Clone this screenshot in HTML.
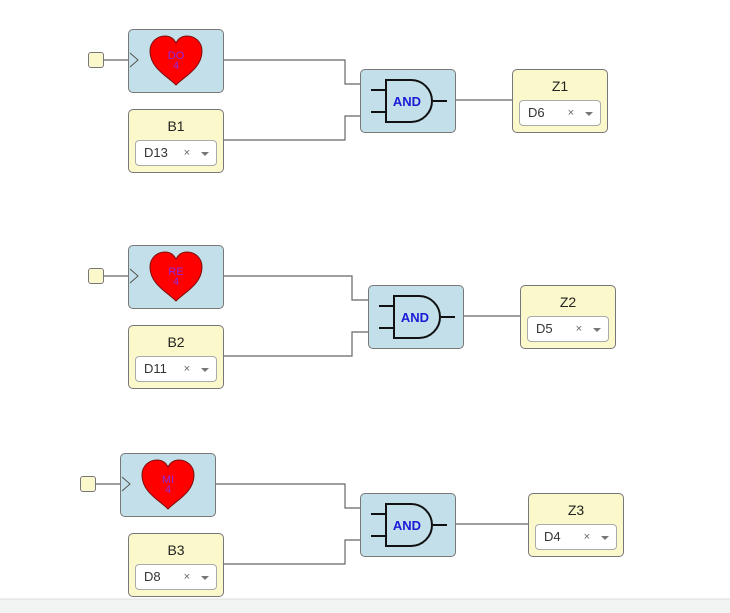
<!DOCTYPE html><html><head><style>
body{margin:0;width:730px;height:613px;background:#fff;position:relative;overflow:hidden;font-family:"Liberation Sans",sans-serif}
.b{position:absolute;box-sizing:border-box;border:1px solid #777;border-radius:5px;width:96px;height:64px}
.blue{background:#c3dfe9}.yel{background:#fbf8cb}
.t{position:absolute;left:0;right:0;top:8px;text-align:center;font-size:14px;color:#222}
.s{position:absolute;left:6px;width:82px;top:30px;height:26px;box-sizing:border-box;border:1px solid #aaa;border-radius:4px;background:#fff;font-size:13px;color:#333;line-height:24px;padding-left:8px}
.s i{position:absolute;right:26px;font-style:normal;font-size:11px;color:#666}
.s u{position:absolute;right:7px;top:11px;border-left:4px solid transparent;border-right:4px solid transparent;border-top:4px solid #777;width:0;height:0}
.sq{position:absolute;width:16px;height:16px;box-sizing:border-box;border:1px solid #777;border-radius:3px;background:#fbf8cb}
.ht{font-family:"Liberation Sans",sans-serif;font-size:11px;fill:#8a2be2;text-anchor:middle}
.at{font-family:"Liberation Sans",sans-serif;font-size:13px;font-weight:bold;fill:#1a1ad8;text-anchor:middle}
</style></head><body>
<svg width="730" height="613" style="position:absolute;left:0;top:0">
<g fill="none" stroke="#666" stroke-width="1.2">
<path d="M104 60H128M223 60H345V84H360M223 140H345V116H360M455 100H512"/>
<path d="M104 276H128M223 276H352V300H368M223 356H352V332H368M463 316H520"/>
<path d="M96 484H120M215 484H345V508H360M223 564H345V540H360M455 524H528"/>
</g>
<rect x="0" y="599" width="730" height="14" fill="#f2f3f3"/>
<line x1="0" y1="599" x2="730" y2="599" stroke="#ddd"/>
</svg>
<div class="sq" style="left:88px;top:52px"></div>
<div class="sq" style="left:88px;top:268px"></div>
<div class="sq" style="left:80px;top:476px"></div>
<div class="b blue" style="left:128px;top:29px"><svg width="94" height="62"><path d="M1 23L9 30L1 37" fill="none" stroke="#555"/><path d="M47 55C38 46 21 38 21 21C21 11 29 6 36 6C42 6 45 9 47 13C49 9 52 6 58 6C65 6 73 11 73 21C73 38 56 46 47 55Z" fill="#f00" stroke="#7a1010"/><text x="47" y="29" class="ht">DO</text><text x="47" y="39" class="ht">4</text></svg></div>
<div class="b blue" style="left:128px;top:245px"><svg width="94" height="62"><path d="M1 23L9 30L1 37" fill="none" stroke="#555"/><path d="M47 55C38 46 21 38 21 21C21 11 29 6 36 6C42 6 45 9 47 13C49 9 52 6 58 6C65 6 73 11 73 21C73 38 56 46 47 55Z" fill="#f00" stroke="#7a1010"/><text x="47" y="29" class="ht">RE</text><text x="47" y="39" class="ht">4</text></svg></div>
<div class="b blue" style="left:120px;top:453px"><svg width="94" height="62"><path d="M1 23L9 30L1 37" fill="none" stroke="#555"/><path d="M47 55C38 46 21 38 21 21C21 11 29 6 36 6C42 6 45 9 47 13C49 9 52 6 58 6C65 6 73 11 73 21C73 38 56 46 47 55Z" fill="#f00" stroke="#7a1010"/><text x="47" y="29" class="ht">MI</text><text x="47" y="39" class="ht">4</text></svg></div>
<div class="b yel" style="left:128px;top:109px"><div class="t">B1</div><div class="s">D13<i>×</i><u></u></div></div>
<div class="b yel" style="left:128px;top:325px"><div class="t">B2</div><div class="s">D11<i>×</i><u></u></div></div>
<div class="b yel" style="left:128px;top:533px"><div class="t">B3</div><div class="s">D8<i>×</i><u></u></div></div>
<div class="b blue" style="left:360px;top:69px"><svg width="94" height="62"><path d="M10 20H25M10 42H25M72 31H86" stroke="#111" stroke-width="2"/><path d="M25 10H50A21 21 0 0 1 50 52H25Z" fill="none" stroke="#111" stroke-width="2"/><text x="46" y="36" class="at">AND</text></svg></div>
<div class="b blue" style="left:368px;top:285px"><svg width="94" height="62"><path d="M10 20H25M10 42H25M72 31H86" stroke="#111" stroke-width="2"/><path d="M25 10H50A21 21 0 0 1 50 52H25Z" fill="none" stroke="#111" stroke-width="2"/><text x="46" y="36" class="at">AND</text></svg></div>
<div class="b blue" style="left:360px;top:493px"><svg width="94" height="62"><path d="M10 20H25M10 42H25M72 31H86" stroke="#111" stroke-width="2"/><path d="M25 10H50A21 21 0 0 1 50 52H25Z" fill="none" stroke="#111" stroke-width="2"/><text x="46" y="36" class="at">AND</text></svg></div>
<div class="b yel" style="left:512px;top:69px"><div class="t">Z1</div><div class="s">D6<i>×</i><u></u></div></div>
<div class="b yel" style="left:520px;top:285px"><div class="t">Z2</div><div class="s">D5<i>×</i><u></u></div></div>
<div class="b yel" style="left:528px;top:493px"><div class="t">Z3</div><div class="s">D4<i>×</i><u></u></div></div>
</body></html>
